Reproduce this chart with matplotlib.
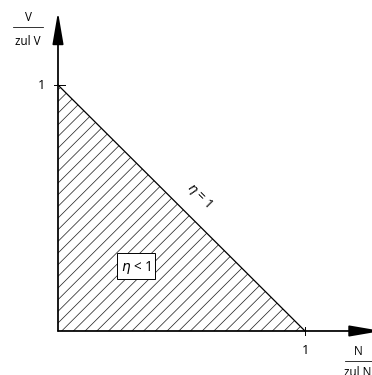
import matplotlib
matplotlib.use("Agg")
import matplotlib.pyplot as plt
from matplotlib.patches import Polygon
import numpy as np

# interaction line eta = 1 (normalised N and V)
n_line = [0.0, 1.0]
v_line = [1.0, 0.0]
tick_vals = [1]
tick_labels = ["1"]

plt.rcParams['font.family'] = ['Open Sans', 'DejaVu Sans']
plt.rcParams['mathtext.fontset'] = 'dejavusans'

DPI = 70
fig = plt.figure(figsize=(372 / DPI, 376 / DPI), dpi=DPI)
ax = fig.add_axes([0, 0, 1, 1])
ax.set_xlim(-0.2348, 1.2713)
ax.set_ylim(-0.1789, 1.3496)
ax.axis('off')

# region below the line, hatched with thin diagonal lines
tri = Polygon(list(zip(n_line + [0.0], v_line + [0.0])), closed=True,
              facecolor='none', edgecolor='none')
ax.add_patch(tri)
step = 0.0474
for c in np.arange(-1.2, 1.2, step):
    xs = np.array([-0.1, 1.2])
    h, = ax.plot(xs, xs + c, color='#222222', lw=0.75)
    h.set_clip_path(tri)
ax.plot(n_line, v_line, color='black', lw=1.3)

# axes with arrows
arrow = dict(arrowstyle='-|>,head_length=1.4,head_width=0.24',
             mutation_scale=20, lw=1.8, color='black', shrinkA=0, shrinkB=0)
ax.annotate('', xy=(0, 1.297), xytext=(0, 0), arrowprops=arrow, annotation_clip=False)
ax.annotate('', xy=(1.31, 0), xytext=(0, 0), arrowprops=arrow, annotation_clip=False)

# ticks
for t, lab in zip(tick_vals, tick_labels):
    ax.plot([t, t], [-0.018, 0.018], color='black', lw=1)
    ax.plot([-0.016, 0.028], [t, t], color='black', lw=1)
    ax.text(t, -0.077, lab, ha='center', va='center', fontsize=13)
    ax.text(-0.065, t, lab, ha='center', va='center', fontsize=13)

# axis labels as fractions
ax.text(-0.121, 1.278, 'V', ha='center', va='center', fontsize=12)
ax.plot([-0.182, -0.061], [1.236, 1.236], color='black', lw=0.8)
ax.text(-0.121, 1.180, 'zul V', ha='center', va='center', fontsize=12)

ax.text(1.215, -0.081, 'N', ha='center', va='center', fontsize=12)
ax.plot([1.162, 1.30], [-0.122, -0.122], color='black', lw=0.8)
ax.text(1.215, -0.165, 'zul N', ha='center', va='center', fontsize=12, clip_on=False)

# annotations
ax.text(0.571, 0.553, r'$\eta$ = 1', ha='center', va='center', rotation=-45,
        fontsize=13.5)
ax.text(0.316, 0.264, r'$\eta$ < 1', ha='center', va='center', fontsize=14,
        bbox=dict(boxstyle='square,pad=0.3', facecolor='white', edgecolor='black', lw=1))

fig.savefig('out.png', dpi=DPI)
